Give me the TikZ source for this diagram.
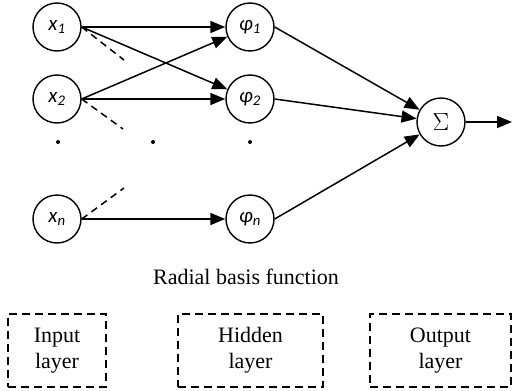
\documentclass[tikz,border=0pt]{standalone}
\usepackage{fontspec}
\setmainfont{Liberation Serif}
\newfontfamily\labelfont{Carlito}
\usetikzlibrary{arrows.meta,positioning}
\tikzset{>={Triangle[length=15pt,width=12pt]},auto,x=1pt,y=-1pt}
\tikzset{
    neuron/.style={circle,draw,line width=1.4pt,minimum size=48pt,inner sep=0pt,
        font=\labelfont\itshape\fontsize{21}{24}\selectfont},
    layerbox/.style={draw,line width=1.4pt,dash pattern=on 8pt off 5pt,
        minimum height=73pt,align=center,font=\fontsize{22}{26}\selectfont},
    dotmark/.style={circle,fill,inner sep=0pt,minimum size=4pt}
}
\begin{document}
\begin{tikzpicture}[line width=1.5pt]
    \useasboundingbox (0,0) rectangle (512,391);
    % input layer
    \node[neuron] (x1) at (57,27)  {x\textsubscript{1}};
    \node[neuron] (x2) at (57,99)  {x\textsubscript{2}};
    \node[neuron] (xn) at (57,219) {x\textsubscript{n}};
    % hidden layer
    \node[neuron] (p1) at (250,27)  {φ\textsubscript{1}};
    \node[neuron] (p2) at (250,99)  {φ\textsubscript{2}};
    \node[neuron] (pn) at (250,219) {φ\textsubscript{n}};
    % output layer
    \node[neuron,font=\fontsize{25}{28}\selectfont] (sum) at (441,122) {$\Sigma$};
    \coordinate (out) at (512,122);
    % vertical dots
    \node[dotmark] (d1) at (58,142)  {};
    \node[dotmark] (d2) at (153,142) {};
    \node[dotmark] (d3) at (250,142) {};
    % ends of the dashed links
    \coordinate (s1) at (124,60);
    \coordinate (s2) at (123,129);
    \coordinate (sn) at (124,188);
    \path[->]
        (x1.east) edge (p1)
        (x1.east) edge (p2)
        (x2.east) edge (p1)
        (x2.east) edge (p2)
        (xn.east) edge (pn)
        (p1.east) edge (sum)
        (p2.east) edge (sum)
        (pn.east) edge (sum)
        (sum.east) edge (out);
    \path[dashed,dash pattern=on 7pt off 5pt]
        (x1.east) edge (s1)
        (x2.east) edge (s2)
        (xn.east) edge (sn);
    % captions
    \node[font=\fontsize{22}{26}\selectfont] (rbf) at (246,277) {Radial basis function};
    \node[layerbox,minimum width=98pt]  (inbox)  at (57,350.5)  {Input\\layer};
    \node[layerbox,minimum width=145pt] (hidbox) at (250.5,350.5) {Hidden\\layer};
    \node[layerbox,minimum width=141pt] (outbox) at (440.5,350.5) {Output\\layer};
\end{tikzpicture}
\end{document}
